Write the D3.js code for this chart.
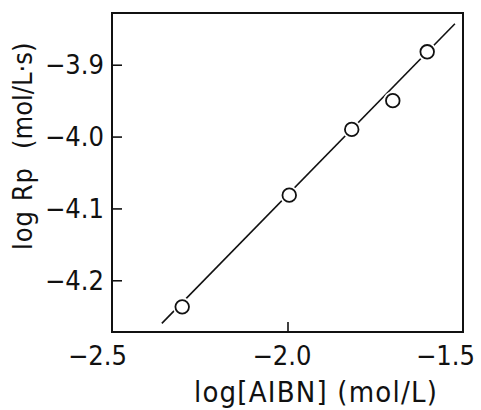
<!DOCTYPE html>
<html><head><meta charset="utf-8">
<script src="https://cdn.jsdelivr.net/npm/d3@7"></script>
<style>body{margin:0;background:#fff}svg{display:block}text{font-family:"DejaVu Sans Condensed","DejaVu Sans",sans-serif;fill:#111}</style>
</head><body><svg id="c" width="481" height="410"></svg>
<script>
const xData = [-2.30, -1.995, -1.817, -1.70, -1.602];
const yData = [-4.237, -4.0815, -3.990, -3.950, -3.882];
const fitX = [-2.358, -1.523];
const fitY = [-4.260, -3.843];
const xTicks = [-2.5, -2.0, -1.5];
const yTicks = [-3.9, -4.0, -4.1, -4.2];
const xLabel = "log[AIBN] (mol/L)";
const yLabelA = "log Rp";
const yLabelB = "(mol/L·s)";

const svg = d3.select("#c");
const L = 112, R = 463, T = 13, B = 332;
const x = d3.scaleLinear().domain([-2.5, -1.5]).range([L, R]);
const y = d3.scaleLinear().domain([-4.272, -3.828]).range([B, T]);
const fmt = d3.format(".1f");

svg.append("rect").attr("x", L).attr("y", T).attr("width", R - L).attr("height", B - T)
  .attr("fill", "none").attr("stroke", "#111").attr("stroke-width", 2);

const ya = svg.append("g").attr("transform", `translate(${L},0)`)
  .call(d3.axisRight(y).tickValues(yTicks).tickSize(10).tickFormat(""));
ya.select(".domain").remove();
ya.selectAll("line").attr("stroke", "#111").attr("stroke-width", 1.6);
svg.selectAll(".ylab").data(yTicks).join("text")
  .attr("x", L - 8).attr("y", d => y(d)).attr("dy", "0.36em")
  .attr("text-anchor", "end").attr("font-size", 27).text(d => fmt(d));

const xa = svg.append("g").attr("transform", `translate(0,${B})`)
  .call(d3.axisTop(x).tickValues([xTicks[1]]).tickSize(10).tickFormat(""));
xa.select(".domain").remove();
xa.selectAll("line").attr("stroke", "#111").attr("stroke-width", 1.6);
const xOff = [15, 24, 12];
svg.selectAll(".xlab").data(xTicks).join("text")
  .attr("x", (d, i) => x(d) + xOff[i]).attr("y", 365)
  .attr("text-anchor", "end").attr("font-size", 27).text(d => fmt(d));

svg.append("text").attr("x", 316).attr("y", 402).attr("text-anchor", "middle")
  .attr("font-size", 29).attr("letter-spacing", 1.2).text(xLabel);
const yl = svg.append("text").attr("transform", "translate(32,250) rotate(-90)")
  .attr("text-anchor", "start").attr("font-size", 27);
yl.append("tspan").attr("letter-spacing", 1).text(yLabelA);
yl.append("tspan").attr("dx", 18).attr("letter-spacing", 0).text(yLabelB);

svg.append("line").attr("x1", x(fitX[0])).attr("y1", y(fitY[0]))
  .attr("x2", x(fitX[1])).attr("y2", y(fitY[1]))
  .attr("stroke", "#111").attr("stroke-width", 1.6);

const pts = xData.map((d, i) => [d, yData[i]]);
svg.selectAll(".halo").data(pts).join("circle")
  .attr("cx", d => x(d[0])).attr("cy", d => y(d[1])).attr("r", 9.5).attr("fill", "#fff");
svg.selectAll(".pt").data(pts).join("circle")
  .attr("cx", d => x(d[0])).attr("cy", d => y(d[1])).attr("r", 6.8)
  .attr("fill", "#fff").attr("stroke", "#111").attr("stroke-width", 1.8);
</script></body></html>
